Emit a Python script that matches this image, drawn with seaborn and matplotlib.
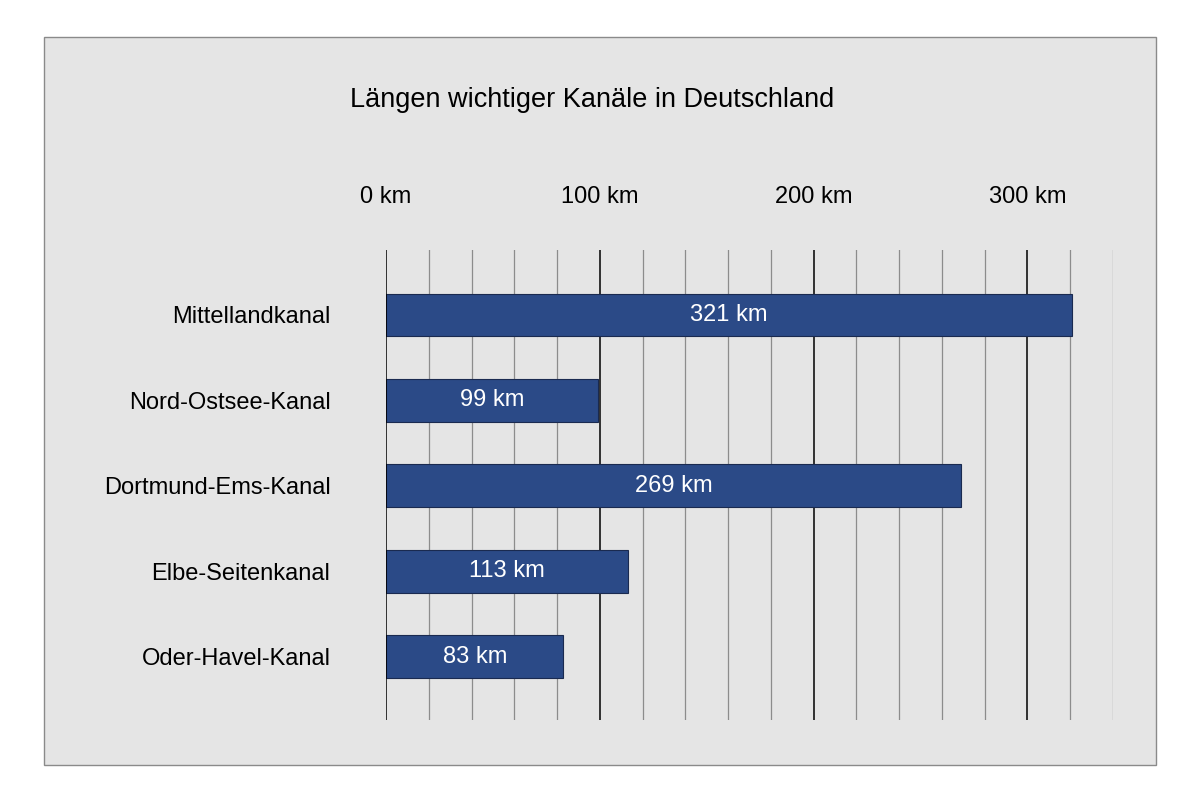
import matplotlib
matplotlib.use("Agg")
import matplotlib.pyplot as plt
import seaborn as sns
import pandas as pd
from matplotlib.patches import Rectangle

canals = ["Mittellandkanal", "Nord-Ostsee-Kanal", "Dortmund-Ems-Kanal", "Elbe-Seitenkanal", "Oder-Havel-Kanal"]
lengths = [321, 99, 269, 113, 83]
tick_vals = [0, 100, 200, 300]
tick_labels = ["0 km", "100 km", "200 km", "300 km"]

plt.rcParams["font.family"] = "Liberation Sans"
fig = plt.figure(figsize=(12, 8), dpi=100)
bg = fig.add_axes([0, 0, 1, 1], zorder=0)
bg.set_xlim(0, 1); bg.set_ylim(0, 1); bg.axis("off")
bg.add_patch(Rectangle((44/1200, 35/800), 1112/1200, 728/800,
                       facecolor="#e5e5e5", edgecolor="#8a8a8a", lw=1))
ax = fig.add_axes([386/1200, 80/800, 727/1200, 470/800], zorder=2)
ax.set_facecolor("none")
df = pd.DataFrame({"canal": canals, "length": lengths})
sns.barplot(data=df, y="canal", x="length", orient="h", color="#2b4a87", saturation=1,
            width=0.5, edgecolor="#1a2a50", linewidth=0.8, ax=ax, zorder=3)
ax.set_xlim(0, 340)
ax.set_ylim(4.74, -0.76)
for v in range(20, 341, 20):
    if v % 100:
        ax.axvline(v, color="#8c8c8c", lw=0.9, zorder=1)
for v in tick_vals:
    ax.axvline(v, color="black", lw=1.1, zorder=4 if v == 0 else 1)
for p, v in zip(ax.patches, lengths):
    ax.text(p.get_x() + p.get_width()/2, p.get_y() + p.get_height()/2, f"{v} km",
            color="white", ha="center", va="center", fontsize=17, zorder=5)
ax.xaxis.tick_top()
ax.set_xticks(tick_vals, tick_labels, fontsize=17)
ax.tick_params(axis="x", length=0, pad=30)
ax.tick_params(axis="y", length=0, pad=40, labelsize=17)
ax.set_xlabel(""); ax.set_ylabel("")
for s in ax.spines.values():
    s.set_visible(False)
fig.text(592/1200, 1-100/800, "Längen wichtiger Kanäle in Deutschland", ha="center", va="center", fontsize=19.5)
fig.savefig("out.png")
